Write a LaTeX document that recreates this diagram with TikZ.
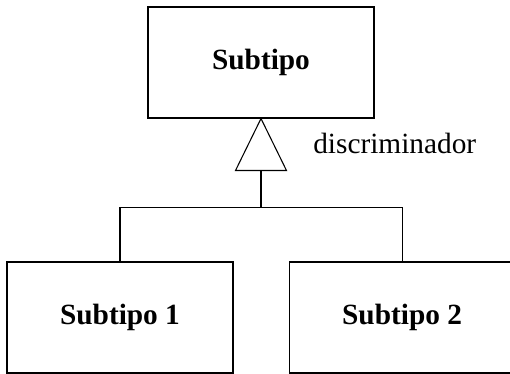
\documentclass[tikz,border=0pt]{standalone}
\usepackage{fontspec}
\setmainfont{Liberation Serif}
\usepackage{tikz}
\usetikzlibrary{positioning, calc}

\begin{document}
\begin{tikzpicture}[
      x=0.75pt, y=0.75pt,
      box/.style={draw, line width=0.8pt, minimum width=169.5pt,
                  minimum height=83.25pt, inner sep=0pt, align=center,
                  font=\fontsize{22}{26}\selectfont\bfseries},
      lbl/.style={font=\fontsize{22}{26}\selectfont, inner sep=0pt},
      link/.style={line width=0.8pt}
    ]
    \useasboundingbox (0,0) rectangle (510,-374);
    \node[box] (top) at (261,-62.5) {Subtipo};
    \node[box] (sub1) at (120,-317.5) {Subtipo 1};
    \node[box, right=41.25pt of sub1] (sub2) {Subtipo 2};
    % generalisation triangle
    \draw[link] (top.south) -- ++(-25.5,-52) coordinate (tl)
      -- ++(51,0) coordinate (tr) -- cycle;
    \coordinate (tri) at ($(tl)!0.5!(tr)$);
    \coordinate (fork) at ($(tri)+(0,-36.5)$);
    \node[lbl, anchor=base west] (disc) at (313,-154) {discriminador};
    \draw[link] (tri) -- (fork);
    \draw[link] (sub1.north) |- (fork) -| (sub2.north);
  \end{tikzpicture}
\end{document}
